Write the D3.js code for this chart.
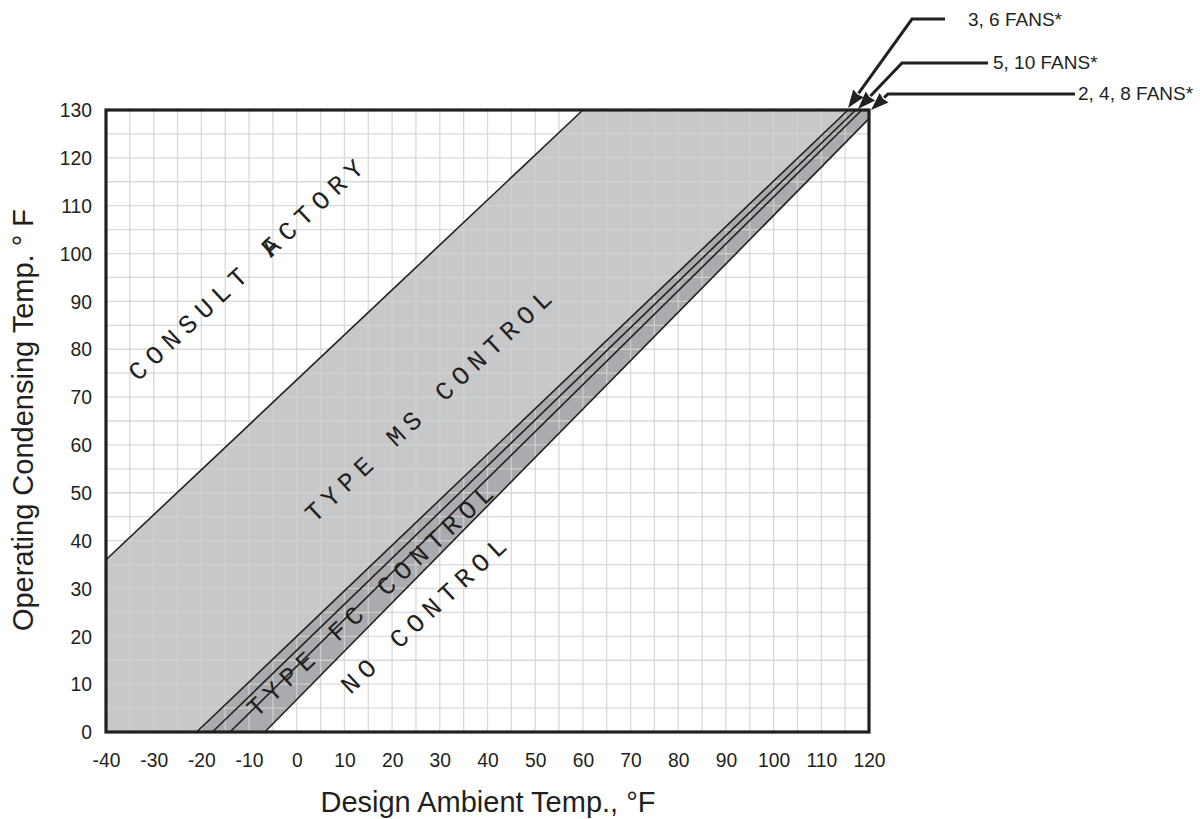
<!DOCTYPE html>
<html><head><meta charset="utf-8">
<script src="https://cdn.jsdelivr.net/npm/d3@7"></script>
<style>
body{margin:0;background:#fff;}
svg{display:block;}
</style></head>
<body><svg id="chart" width="1200" height="819"></svg>
<script>
// ---- data ----
const xTicks = [-40,-30,-20,-10,0,10,20,30,40,50,60,70,80,90,100,110,120];
const yTicks = [0,10,20,30,40,50,60,70,80,90,100,110,120,130];
// boundary lines [x,y] endpoints (°F ambient, °F condensing)
const msUpper = [[-40,36],[60,130]];
const fcLine1 = [[-21,0],[115.6,130]];
const fcLine2 = [[-17.7,0],[117.2,130]];
const fcLine3 = [[-14,0],[118.5,130]];
const fcLine4 = [[-6.7,0],[120,128.2]];
const regionLabels = [
  {text:"CONSULT FACTORY", x:-12.4, y:95.2},
  {text:"TYPE MS CONTROL", x:27.5, y:68.3},
  {text:"TYPE FC CONTROL", x:15.3, y:27.6},
  {text:"NO CONTROL", x:26.5, y:24.5}
];
const fanLabels = ["3, 6 FANS*","5, 10 FANS*","2, 4, 8 FANS*"];

// ---- drawing ----
const svg = d3.select("#chart");
const x = d3.scaleLinear().domain([-40,120]).range([106,869]);
const y = d3.scaleLinear().domain([0,130]).range([732,110]);
const ink = "#231f20";
const line = d3.line().x(d=>x(d[0])).y(d=>y(d[1]));
const fontFam = "'Liberation Sans',Arial,sans-serif";

// background
svg.append("rect").attr("x",x(-40)).attr("y",y(130)).attr("width",x(120)-x(-40)).attr("height",y(0)-y(130)).attr("fill","#fff");

// MS region
const msPoly = [[-40,0],[-40,msUpper[0][1]],msUpper[1],[fcLine1[1][0],130],fcLine1[0]];
svg.append("path").attr("d",line(msPoly)+"Z").attr("fill","#c7c8ca");
// FC band
const fcPoly = [fcLine1[0],fcLine1[1],[120,130],fcLine4[1],fcLine4[0]];
svg.append("path").attr("d",line(fcPoly)+"Z").attr("fill","#a9abae");

// grid every 5
const grid = svg.append("g").attr("stroke","#d2d2d2").attr("stroke-opacity",0.85).attr("stroke-width",1.3);
d3.range(-35,120,5).forEach(v=>grid.append("line").attr("x1",x(v)).attr("x2",x(v)).attr("y1",y(0)).attr("y2",y(130)));
d3.range(5,130,5).forEach(v=>grid.append("line").attr("y1",y(v)).attr("y2",y(v)).attr("x1",x(-40)).attr("x2",x(120)));

// boundary lines
[msUpper,fcLine1,fcLine2,fcLine3,fcLine4].forEach(l=>{
  svg.append("path").attr("d",line(l)).attr("stroke",ink).attr("stroke-width",1.6).attr("fill","none");
});

// region labels
const angle = -43;
regionLabels.forEach(lb=>{
  const t = svg.append("text")
    .attr("transform",`translate(${x(lb.x)},${y(lb.y)}) rotate(${angle})`)
    .attr("text-anchor","middle").attr("dy","0.36em").attr("dx",3)
    .attr("font-family","'Liberation Mono','Courier New',monospace")
    .attr("font-size",26).attr("letter-spacing",6.6).attr("fill",ink);
  if(lb.text==="CONSULT FACTORY"){
    t.attr("letter-spacing",7.1);
    t.append("tspan").text("CONSULT F");
    t.append("tspan").attr("dx",-22.7).text("ACTORY");
    t.attr("dx",14);
  } else t.text(lb.text);
});

// border
svg.append("rect").attr("x",x(-40)).attr("y",y(130)).attr("width",x(120)-x(-40)).attr("height",y(0)-y(130))
  .attr("fill","none").attr("stroke",ink).attr("stroke-width",3.2);

// axes
const sx = 0.92;
const xAxis = svg.append("g").attr("transform",`translate(0,${y(0)})`)
  .call(d3.axisBottom(x).tickValues(xTicks).tickSize(0).tickPadding(20).tickFormat(d=>String(d)));
const yAxis = svg.append("g").attr("transform",`translate(${x(-40)},0)`)
  .call(d3.axisLeft(y).tickValues(yTicks).tickSize(0).tickPadding(14/sx).tickFormat(d=>String(d)));
[xAxis,yAxis].forEach(a=>{a.select(".domain").remove();
  a.selectAll("text").attr("font-size",21).attr("fill",ink).attr("font-family",fontFam)
   .attr("transform",`scale(${sx},1)`);});

svg.append("text").attr("x",488).attr("y",812).attr("text-anchor","middle")
  .attr("font-family",fontFam).attr("font-size",29).attr("fill",ink).text("Design Ambient Temp., °F");
svg.append("text").attr("transform","translate(32.5,420) rotate(-90)").attr("text-anchor","middle")
  .attr("font-family",fontFam).attr("font-size",29).attr("fill",ink).text("Operating Condensing Temp. ° F");

// leader arrows
const leaders = [
  {pts:[[945,19],[912,19],[848,108]], tx:968, ty:19},
  {pts:[[988,63],[902,63],[858,109]], tx:993, ty:62},
  {pts:[[1075,94],[888,94],[871,110]], tx:1078, ty:93}
];
leaders.forEach((ld,i)=>{
  const p = ld.pts;
  const tip = p[2], from = p[1];
  const ang = Math.atan2(tip[1]-from[1], tip[0]-from[0]);
  const L = 18, W = 6.5;
  const bx = tip[0]-L*Math.cos(ang), by = tip[1]-L*Math.sin(ang);
  svg.append("path").attr("d",`M${p[0][0]},${p[0][1]}L${p[1][0]},${p[1][1]}L${bx},${by}`)
    .attr("stroke",ink).attr("stroke-width",3).attr("fill","none");
  const nx = -Math.sin(ang), ny = Math.cos(ang);
  svg.append("path").attr("d",`M${tip[0]},${tip[1]}L${bx+nx*W},${by+ny*W}L${bx+1.5*Math.cos(ang)},${by+1.5*Math.sin(ang)}L${bx-nx*W},${by-ny*W}Z`)
    .attr("fill",ink);
  svg.append("text").attr("x",ld.tx).attr("y",ld.ty).attr("dy","0.35em")
    .attr("font-family",fontFam).attr("font-size",19).attr("fill",ink).text(fanLabels[i]);
});
</script></body></html>
